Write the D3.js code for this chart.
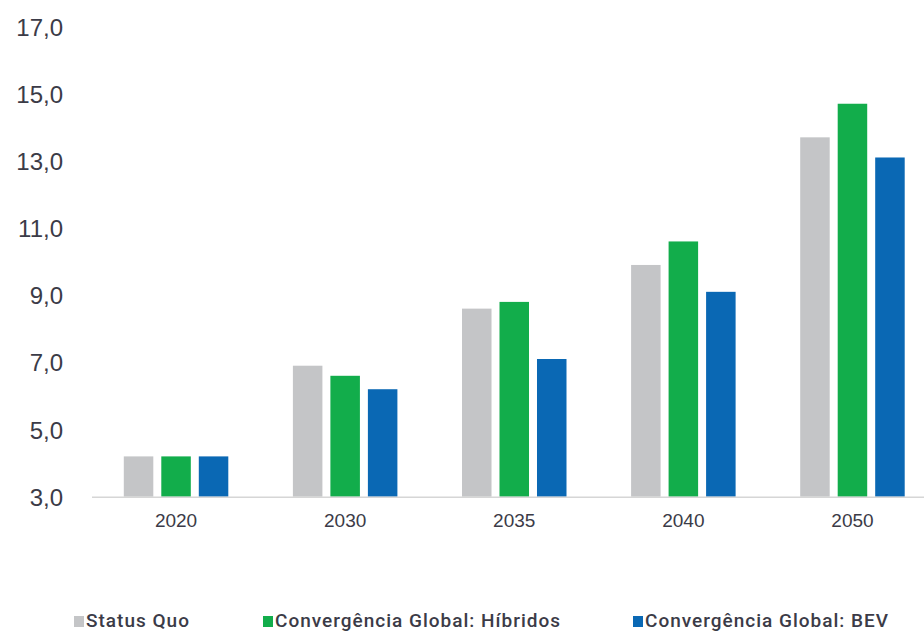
<!DOCTYPE html>
<html>
<head>
<meta charset="utf-8">
<script src="https://cdn.jsdelivr.net/npm/d3@7"></script>
<style>
  html, body { margin: 0; padding: 0; background: #ffffff; }
  svg { display: block; font-family: Roboto, "Noto Sans", sans-serif; }
</style>
</head>
<body>
<svg id="chart" width="924" height="634"></svg>
<script>
// Anos do cenário
const years = ["2020", "2030", "2035", "2040", "2050"];
// Séries
const seriesNames = ["Status Quo", "Convergência Global: Híbridos", "Convergência Global: BEV"];
const statusQuo = [4.2, 6.9, 8.6, 9.9, 13.7];
const hibridos  = [4.2, 6.6, 8.8, 10.6, 14.7];
const bev       = [4.2, 6.2, 7.1, 9.1, 13.1];
const seriesColors = ["#c4c5c7", "#12ad4b", "#0a68b4"];
// Marcas do eixo vertical
const yTicks = [3, 5, 7, 9, 11, 13, 15, 17];

const seriesValues = [statusQuo, hibridos, bev];
const rows = years.map((yr, i) => ({
  year: yr,
  values: seriesNames.map((s, k) => ({ key: s, value: seriesValues[k][i], color: seriesColors[k] }))
}));

const svg = d3.select("#chart");
const textColor = "#3b3b47";
const baseY = 496.7;

const pt = d3.formatLocale({ decimal: ",", thousands: ".", grouping: [3], currency: ["", ""] });
const fmt = pt.format(".1f");

const y = d3.scaleLinear().domain([3, 17]).range([baseY, 26.5]);
const x0 = d3.scaleBand().domain(years).range([91.5, 937]).paddingInner(0.382).paddingOuter(0.191);
const x1 = d3.scaleBand().domain(seriesNames).range([0, x0.bandwidth()]).paddingInner(0.213);

// Eixo Y (apenas rótulos)
const yAxis = svg.append("g")
  .attr("transform", "translate(63,0)")
  .call(d3.axisLeft(y).tickValues(yTicks).tickSize(0).tickPadding(0).tickFormat(fmt));
yAxis.select(".domain").remove();
yAxis.selectAll("text")
  .attr("fill", textColor)
  .style("font-size", "24px")
  .style("font-weight", "500")
  .attr("dy", "0.36em");

// Barras
const groups = svg.append("g").selectAll("g")
  .data(rows).join("g")
  .attr("transform", d => `translate(${x0(d.year)},0)`);
groups.selectAll("rect")
  .data(d => d.values).join("rect")
  .attr("x", d => x1(d.key))
  .attr("width", x1.bandwidth())
  .attr("y", d => y(d.value))
  .attr("height", d => y(3) - y(d.value))
  .attr("fill", d => d.color);

// Eixo X
const xAxis = svg.append("g")
  .attr("transform", `translate(0,${baseY})`)
  .call(d3.axisBottom(x0).tickSize(0).tickPadding(17));
xAxis.select(".domain").attr("stroke", "#d6d6d6").attr("stroke-width", 1.5);
xAxis.selectAll("text")
  .attr("fill", textColor)
  .style("font-size", "19px")
  .style("font-weight", "500");

// Legenda
const legendX = [74, 263, 633];
const legend = svg.append("g").selectAll("g")
  .data(seriesNames).join("g")
  .attr("transform", (d, i) => `translate(${legendX[i]},616)`);
legend.append("rect")
  .attr("width", 10).attr("height", 11)
  .attr("fill", (d, i) => seriesColors[i]);
legend.append("text")
  .attr("x", 12).attr("y", 11)
  .attr("fill", textColor)
  .style("font-size", "19px")
  .style("font-weight", "500")
  .style("letter-spacing", "1px")
  .text(d => d);
</script>
</body>
</html>
